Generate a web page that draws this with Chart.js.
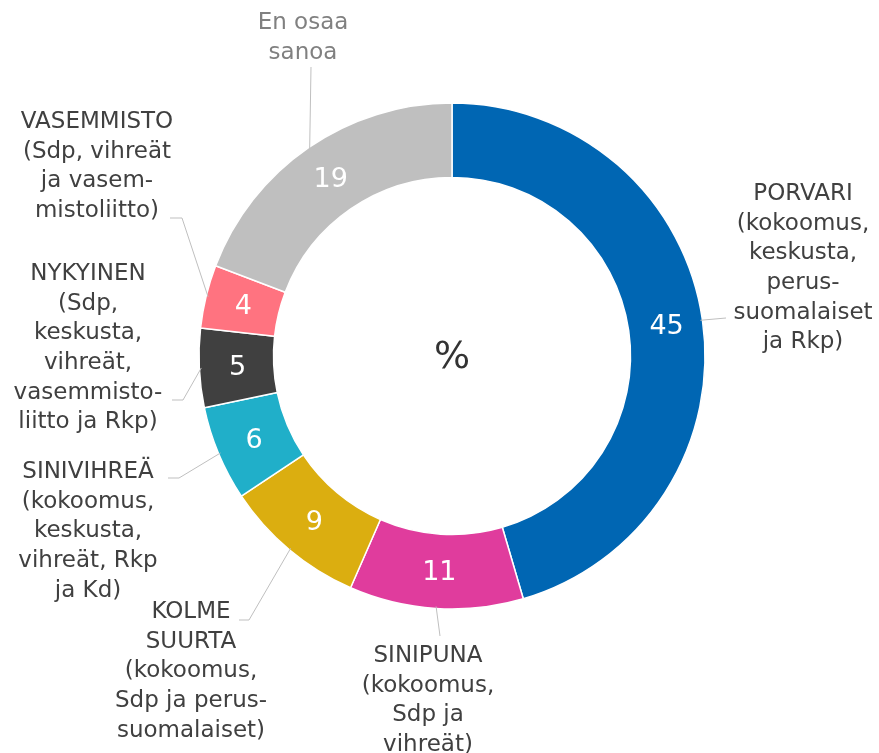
<!DOCTYPE html>
<html>
<head>
<meta charset="utf-8">
<script src="https://cdn.jsdelivr.net/npm/chart.js@4/dist/chart.umd.min.js"></script>
<style>
  body { margin: 0; background: #fff; }
  #wrap { width: 879px; height: 753px; }
</style>
</head>
<body>
<div id="wrap"><canvas id="donitsi" width="879" height="753"></canvas></div>
<script>
// hallituspohjat (rivit valmiiksi katkaistu kuten alkuperäisessä)
const pohjat = [
    ["PORVARI", "(kokoomus,", "keskusta,", "perus-", "suomalaiset", "ja Rkp)"],
    ["SINIPUNA", "(kokoomus,", "Sdp ja", "vihreät)"],
    ["KOLME", "SUURTA", "(kokoomus,", "Sdp ja perus-", "suomalaiset)"],
    ["SINIVIHREÄ", "(kokoomus,", "keskusta,", "vihreät, Rkp", "ja Kd)"],
    ["NYKYINEN", "(Sdp,", "keskusta,", "vihreät,", "vasemmisto-", "liitto ja Rkp)"],
    ["VASEMMISTO", "(Sdp, vihreät", "ja vasem-", "mistoliitto)"],
    ["En osaa", "sanoa"],
];
const osuudet = [45, 11, 9, 6, 5, 4, 19];
const varit = ["#0066B3", "#E03C9D", "#DBAE10", "#20AFC9", "#404040", "#FF7380", "#BFBFBF"];
const tekstivarit = ["#404040", "#404040", "#404040", "#404040", "#404040", "#404040", "#808080"];

// selitteiden paikat: tekstin keskikohta, ensimmäinen rivi, viivan taitekohdat
const selitePaikat = [
    { x: 803, y: 194, viiva: [[726, 318]] },
    { x: 428, y: 656, viiva: [[440, 636]] },
    { x: 191, y: 612, viiva: [[249, 620], [239, 620]] },
    { x: 88, y: 472, viiva: [[179, 478], [168, 478]] },
    { x: 88, y: 274, viiva: [[183, 400], [172, 400]] },
    { x: 97, y: 122, viiva: [[182, 218], [170, 218]] },
    { x: 303, y: 23, viiva: [[311, 67]] },
];
const riviVali = 29.7;
const fontti = "DejaVu Sans";

//piirretään arvot, prosenttimerkki ja selitteet itse
const selitteet = {
    id: "selitteet",
    afterDraw(chart) {
        const ctx = chart.ctx;
        const meta = chart.getDatasetMeta(0);
        ctx.save();
        meta.data.forEach((arc, i) => {
            // arvo renkaan keskelle
            const p = arc.getCenterPoint();
            ctx.fillStyle = "#ffffff";
            ctx.font = "27px '" + fontti + "'";
            ctx.textAlign = "center";
            ctx.textBaseline = "middle";
            ctx.fillText(osuudet[i], p.x + 1, p.y + 2);

            // viiva kaaren ulkoreunalta selitteeseen
            const kulma = (arc.startAngle + arc.endAngle) / 2;
            const sx = arc.x + Math.cos(kulma) * (arc.outerRadius - 2);
            const sy = arc.y + Math.sin(kulma) * (arc.outerRadius - 2);
            ctx.strokeStyle = "#BFBFBF";
            ctx.lineWidth = 1;
            ctx.beginPath();
            ctx.moveTo(sx, sy);
            selitePaikat[i].viiva.forEach(pt => ctx.lineTo(pt[0], pt[1]));
            ctx.stroke();

            // selitteen teksti
            ctx.fillStyle = tekstivarit[i];
            ctx.font = "23px '" + fontti + "'";
            pohjat[i].forEach((rivi, r) => {
                ctx.fillText(rivi, selitePaikat[i].x, selitePaikat[i].y + r * riviVali);
            });
        });
        // prosenttimerkki keskelle
        const a = meta.data[0];
        ctx.fillStyle = "#333333";
        ctx.font = "38px '" + fontti + "'";
        ctx.fillText("%", a.x, a.y + 2);
        ctx.restore();
    },
};

let donitsiCan = document.getElementById("donitsi").getContext("2d");
var donitsi = new Chart(donitsiCan, {
    type: "doughnut",
    data: {
        labels: pohjat.map(p => p.join(" ")),
        datasets: [{
            data: osuudet,
            backgroundColor: varit,
            borderColor: "#ffffff",
            borderWidth: 1.5,
        }, ],
    },
    options: {
        responsive: false,
        animation: false,
        radius: 253,
        cutout: 178,
        layout: {
            padding: { left: 199, right: 174, top: 103, bottom: 144 },
        },
        plugins: {
            legend: { display: false },
            tooltip: { enabled: false },
        },
    },
    plugins: [selitteet],
});
</script>
</body>
</html>
